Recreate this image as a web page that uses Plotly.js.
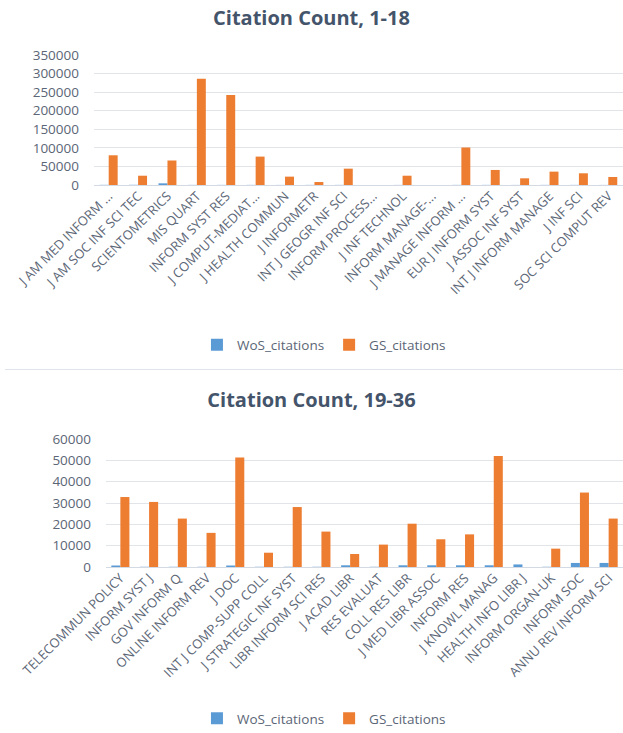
<!DOCTYPE html>
<html>
<head>
<meta charset="utf-8">
<script src="https://cdn.plot.ly/plotly-3.0.1.min.js"></script>
<style>
  html, body { margin: 0; padding: 0; background: #fff; width: 623px; height: 733px; overflow: hidden; }
  #c1 { position: absolute; left: 0; top: 0; width: 623px; height: 368px; }
  #sep { position: absolute; left: 5px; top: 369px; width: 618px; height: 1px; background: #dfe4ea; }
  #c2 { position: absolute; left: 0; top: 370px; width: 623px; height: 363px; }
</style>
</head>
<body>
<div id="c1"></div>
<div id="sep"></div>
<div id="c2"></div>
<script>
// ---- Chart 1: journals 1-18 ----
const journals1 = ["J AM MED INFORM ...", "J AM SOC INF SCI TEC", "SCIENTOMETRICS", "MIS QUART", "INFORM SYST RES",
  "J COMPUT-MEDIAT...", "J HEALTH COMMUN", "J INFORMETR", "INT J GEOGR INF SCI", "INFORM PROCESS...",
  "J INF TECHNOL", "INFORM MANAGE-...", "J MANAGE INFORM ...", "EUR J INFORM SYST", "J ASSOC INF SYST",
  "INT J INFORM MANAGE", "J INF SCI", "SOC SCI COMPUT REV"];
const wos1 = [400, 500, 4500, 300, 300, 300, 200, 300, 300, 0, 200, 0, 300, 300, 200, 300, 300, 200];
const gs1 = [80000, 25000, 66000, 286000, 242000, 76500, 22500, 8000, 44000, 0, 25000, 0, 101000, 40500, 18000, 36000, 31500, 21500];

// ---- Chart 2: journals 19-36 ----
const journals2 = ["TELECOMMUN POLICY", "INFORM SYST J", "GOV INFORM Q", "ONLINE INFORM REV", "J DOC",
  "INT J COMP-SUPP COLL", "J STRATEGIC INF SYST", "LIBR INFORM SCI RES", "J ACAD LIBR", "RES EVALUAT",
  "COLL RES LIBR", "J MED LIBR ASSOC", "INFORM RES", "J KNOWL MANAG", "HEALTH INFO LIBR J",
  "INFORM ORGAN-UK", "INFORM SOC", "ANNU REV INFORM SCI"];
const wos2 = [700, 100, 100, 100, 700, 100, 100, 100, 800, 100, 800, 800, 800, 800, 1200, 100, 1900, 1900];
const gs2 = [32800, 30500, 22700, 16000, 51300, 6700, 28100, 16600, 6100, 10500, 20300, 13000, 15300, 52000, 0, 8600, 34900, 22700];

const seriesNames = ["WoS_citations", "GS_citations"];
const colWoS = "#5B9BD5", colGS = "#ED7D31";
const txtCol = "#5b6676";
const titleCol = "#44546A";
const FONT = "'Open Sans', 'Noto Sans', sans-serif";

function makeTraces(cats, wos, gs) {
  return [
    { type: "bar", name: seriesNames[0], x: cats, y: wos, marker: { color: colWoS } },
    { type: "bar", name: seriesNames[1], x: cats, y: gs, marker: { color: colGS } }
  ];
}

function makeLayout(opts) {
  return {
    width: 623, height: opts.h,
    margin: { l: opts.l, r: 0, t: opts.t, b: opts.b, pad: 0 },
    paper_bgcolor: "#fff", plot_bgcolor: "#fff",
    font: { family: FONT, color: txtCol, size: 13 },
    title: { text: "<b>" + opts.title + "</b>", font: { family: FONT, size: 20, color: titleCol },
             x: 0.5, xanchor: "center", xref: "container", yref: "container", y: opts.ty, yanchor: "middle" },
    barmode: "group", bargap: opts.bargap, bargroupgap: 0,
    showlegend: true,
    legend: { orientation: "h", x: 0.52, xanchor: "center", xref: "container", yref: "container", y: opts.ly, yanchor: "middle",
              font: { family: FONT, size: 13.5, color: txtCol }, itemwidth: 30, traceorder: "normal" },
    xaxis: { type: "category", tickangle: -45, tickfont: { family: FONT, size: 13, color: txtCol },
             showgrid: false, showline: false, ticks: "", automargin: false },
    yaxis: { range: [0, opts.ymax], dtick: opts.dtick, tickformat: "d", tickfont: { family: FONT, size: 13.5, color: txtCol },
             showgrid: true, gridcolor: "#e1e5ea", gridwidth: 1, zeroline: true, zerolinecolor: "#d3dae3", zerolinewidth: 1,
             showline: false, ticks: "", ticklabelstandoff: 14, automargin: false }
  };
}

Plotly.newPlot("c1", makeTraces(journals1, wos1, gs1),
  makeLayout({ h: 368, l: 94, t: 55, b: 183, title: "Citation Count, 1-18", ty: 0.951, ly: 0.0625,
               bargap: 0.39, ymax: 350000, dtick: 50000 }),
  { displayModeBar: false, staticPlot: true });

Plotly.newPlot("c2", makeTraces(journals2, wos2, gs2),
  makeLayout({ h: 363, l: 106, t: 69, b: 166, title: "Citation Count, 19-36", ty: 0.917, ly: 0.04,
               bargap: 0.37, ymax: 60000, dtick: 10000 }),
  { displayModeBar: false, staticPlot: true });
</script>
</body>
</html>
